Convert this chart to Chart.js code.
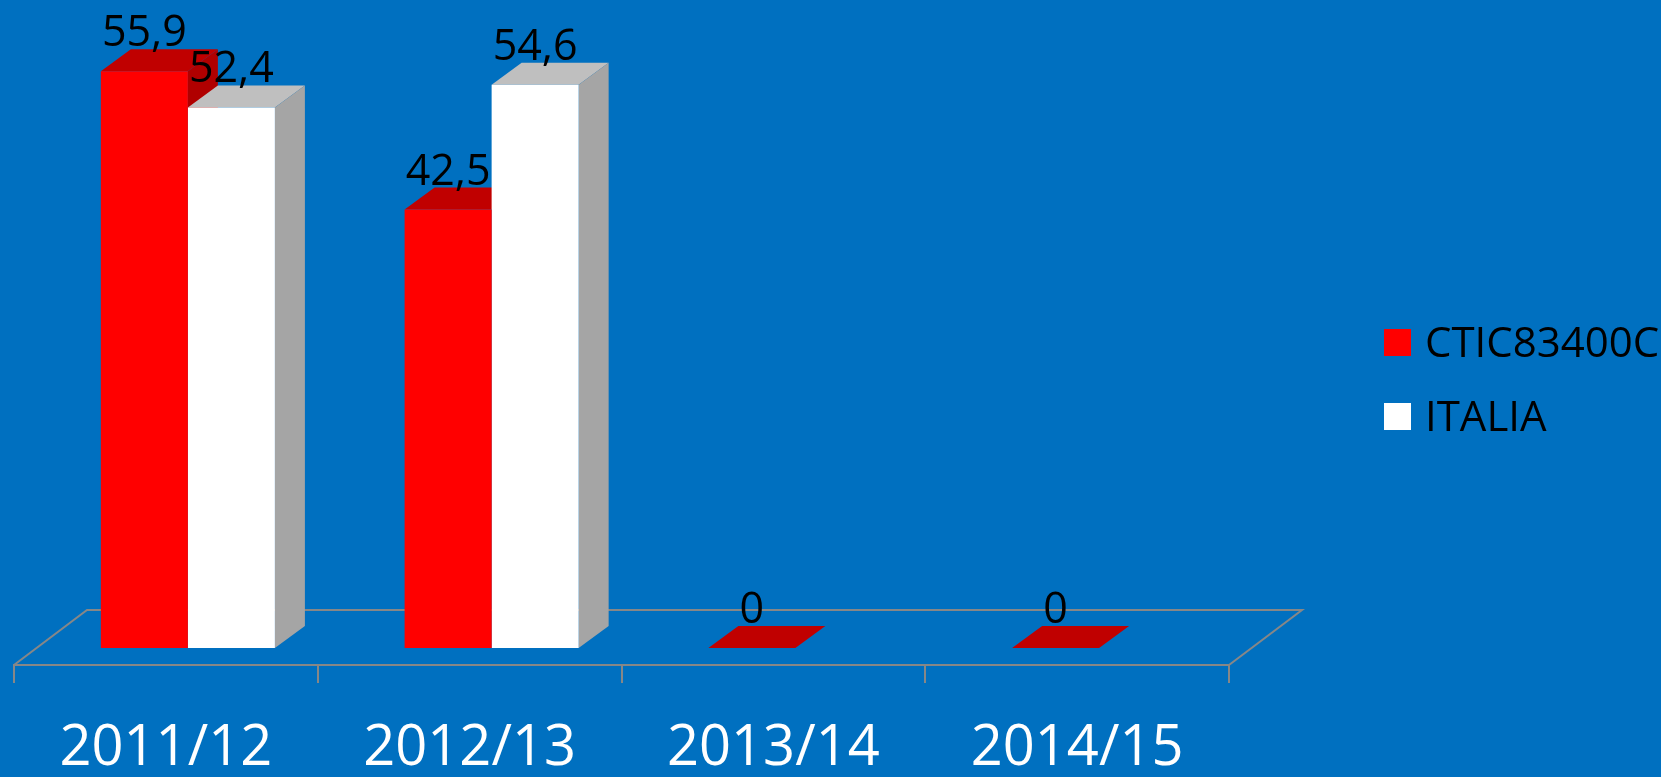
<!DOCTYPE html>
<html>
<head>
<meta charset="utf-8">
<title>CTIC83400C - ITALIA</title>
<script src="https://cdn.jsdelivr.net/npm/chart.js@4.4.0/dist/chart.umd.min.js"></script>
<style>
  html, body { margin: 0; padding: 0; background: #0070c0; overflow: hidden; }
  canvas { display: block; }
</style>
</head>
<body>
<canvas id="chart" width="1661" height="777"></canvas>
<script>
const years = ['2011/12', '2012/13', '2013/14', '2014/15'];
const schoolValues = [55.9, 42.5, 0, 0];
const italyValues = [52.4, 54.6, null, null];
const seriesNames = ['CTIC83400C', 'ITALIA'];

const frontColors = ['#ff0000', '#ffffff'];
const topColors = ['#c00000', '#bfbfbf'];
const sideColors = ['#b00000', '#a5a5a5'];
const lineColor = '#878787';

// fake 3D: bars sit a bit behind the floor's front edge
const inset = { x: 22, y: -17 };
const depth = { x: 30, y: -22 };
const floorDepth = { x: 73, y: -55 };

const fmt = v => String(v).replace('.', ',');

const bars3d = {
    id: 'bars3d',
    beforeDatasetsDraw(chart) {
        const ctx = chart.ctx;
        const { left, right } = chart.chartArea;
        const y0 = chart.scales.y.getPixelForValue(0);

        // floor outline (front edge is the x axis border)
        ctx.save();
        ctx.strokeStyle = lineColor;
        ctx.lineWidth = 2;
        ctx.beginPath();
        ctx.moveTo(left, y0);
        ctx.lineTo(left + floorDepth.x, y0 + floorDepth.y);
        ctx.lineTo(right + floorDepth.x, y0 + floorDepth.y);
        ctx.lineTo(right, y0);
        ctx.stroke();

        // top and side faces, front faces come from chart.js afterwards
        ctx.translate(inset.x, inset.y);
        years.forEach((_, i) => {
            chart.data.datasets.forEach((ds, d) => {
                if (ds.data[i] === null) return;
                const bar = chart.getDatasetMeta(d).data[i];
                const { x, y, base, width } = bar.getProps(['x', 'y', 'base', 'width'], true);
                const l = x - width / 2, r = x + width / 2;
                ctx.fillStyle = topColors[d];
                ctx.beginPath();
                ctx.moveTo(l, y);
                ctx.lineTo(l + depth.x, y + depth.y);
                ctx.lineTo(r + depth.x, y + depth.y);
                ctx.lineTo(r, y);
                ctx.closePath();
                ctx.fill();
                ctx.fillStyle = sideColors[d];
                ctx.beginPath();
                ctx.moveTo(r, y);
                ctx.lineTo(r + depth.x, y + depth.y);
                ctx.lineTo(r + depth.x, base + depth.y);
                ctx.lineTo(r, base);
                ctx.closePath();
                ctx.fill();
            });
        });
        ctx.restore();

        ctx.save();
        ctx.translate(inset.x, inset.y);
    },
    afterDatasetsDraw(chart) {
        const ctx = chart.ctx;
        ctx.restore();

        // value labels
        ctx.save();
        ctx.font = '43px "Open Sans"';
        ctx.fillStyle = '#000';
        ctx.textAlign = 'center';
        ctx.textBaseline = 'alphabetic';
        chart.data.datasets.forEach((ds, d) => {
            chart.getDatasetMeta(d).data.forEach((bar, i) => {
                if (ds.data[i] === null) return;
                ctx.fillText(fmt(ds.data[i]), bar.x + inset.x, bar.y + inset.y + depth.y - 3);
            });
        });
        ctx.restore();
    },
    afterDraw(chart) {
        // legend on the right, text runs off the edge like the original
        const ctx = chart.ctx;
        ctx.save();
        ctx.font = '42px "Open Sans"';
        ctx.textBaseline = 'alphabetic';
        ctx.textAlign = 'left';
        seriesNames.forEach((name, k) => {
            const top = 329 + k * 74;
            ctx.fillStyle = frontColors[k];
            ctx.fillRect(1384, top, 27, 27);
            ctx.fillStyle = '#000';
            ctx.fillText(name, 1425, top + 28);
        });
        ctx.restore();
    }
};

new Chart(document.getElementById('chart'), {
    type: 'bar',
    data: {
        labels: years,
        datasets: [
            { label: seriesNames[0], data: schoolValues, backgroundColor: frontColors[0] },
            { label: seriesNames[1], data: italyValues, backgroundColor: frontColors[1] }
        ]
    },
    options: {
        responsive: false,
        animation: false,
        layout: { padding: { left: 14, right: 432, top: 46, bottom: 2 } },
        datasets: { bar: { categoryPercentage: 0.573, barPercentage: 1, clip: false } },
        plugins: { legend: { display: false }, tooltip: { enabled: false } },
        scales: {
            y: { display: false, min: 0, max: 60 },
            x: {
                afterFit(scale) { scale.height = 110; },
                grid: { offset: true, drawOnChartArea: false, color: lineColor, lineWidth: 2, tickLength: 18 },
                border: { color: lineColor, width: 2 },
                ticks: {
                    color: '#fff',
                    font: { family: 'Open Sans', size: 56, lineHeight: 1 },
                    padding: 38,
                    maxRotation: 0,
                    autoSkip: false
                }
            }
        }
    },
    plugins: [bars3d]
});
</script>
</body>
</html>
